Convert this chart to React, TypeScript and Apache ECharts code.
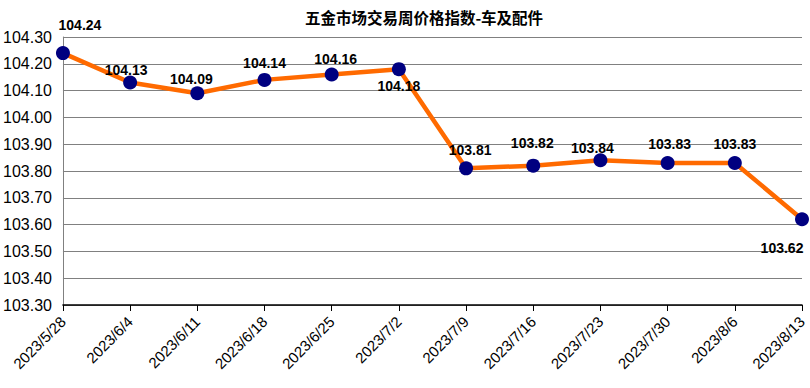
import React, { useEffect, useRef } from "react";
import * as echarts from "echarts";

const TITLE = "五金市场交易周价格指数-车及配件";
const categories = [
  "2023/5/28", "2023/6/4", "2023/6/11", "2023/6/18", "2023/6/25", "2023/7/2",
  "2023/7/9", "2023/7/16", "2023/7/23", "2023/7/30", "2023/8/6", "2023/8/13",
];
const values = [104.24, 104.13, 104.09, 104.14, 104.16, 104.18, 103.81, 103.82, 103.84, 103.83, 103.83, 103.62];
const labelOffsets: [number, number][] = [
  [17, -28], [-4, -13], [-6, -14], [0, -17], [4, -16], [0, 17],
  [4, -18], [-1, -23], [-8, -12], [2, -19], [0, -19], [-20, 29],
];
const yMin = 103.3;
const yMax = 104.3;
const yStep = 0.1;

export default function App() {
  const ref = useRef<HTMLDivElement>(null);
  useEffect(() => {
    if (!ref.current) return;
    const chart = echarts.init(ref.current, null, { renderer: "svg" });
    chart.setOption({
      animation: false,
      backgroundColor: "#ffffff",
      title: {
        text: TITLE,
        left: 419,
        top: 4,
        textAlign: "center",
        textStyle: { fontFamily: "Noto Sans CJK SC", fontSize: 15.5, fontWeight: "bold", color: "#000" },
      },
      grid: { left: 62, right: 8, top: 37, bottom: 83, containLabel: false },
      xAxis: {
        type: "category",
        data: categories,
        boundaryGap: false,
        axisLine: { show: true, lineStyle: { color: "#000", width: 1.5 } },
        axisTick: { show: true, length: 6, lineStyle: { color: "#000" } },
        axisLabel: {
          rotate: 45,
          interval: 0,
          margin: 14,
          padding: [20, 0, 0, 0],
          fontFamily: "Liberation Sans, Arial",
          fontSize: 15,
          color: "#000",
        },
        splitLine: { show: false },
      },
      yAxis: {
        type: "value",
        min: yMin,
        max: yMax,
        interval: yStep,
        axisLine: { show: true, lineStyle: { color: "#808080", width: 1 } },
        axisTick: { show: false },
        axisLabel: {
          formatter: (v: number) => v.toFixed(2),
          fontFamily: "Liberation Sans, Arial",
          fontSize: 16,
          color: "#000",
          margin: 11,
        },
        splitLine: { show: true, lineStyle: { color: "#808080", width: 1 } },
      },
      series: [
        {
          type: "line",
          data: values.map((v, i) => ({
            value: v,
            label: { offset: labelOffsets[i] },
          })),
          symbol: "circle",
          symbolSize: 14,
          lineStyle: { color: "#FF6A00", width: 4.5 },
          itemStyle: { color: "#000080", borderWidth: 0 },
          label: {
            show: true,
            position: "inside",
            align: "center",
            verticalAlign: "middle",
            formatter: (p: any) => Number(p.value).toFixed(2),
            fontFamily: "Liberation Sans, Arial",
            fontSize: 14,
            fontWeight: "bold",
            color: "#000",
          },
          z: 3,
        },
      ],
    });
    return () => chart.dispose();
  }, []);
  return <div ref={ref} style={{ width: 810, height: 388, position: "absolute", left: 0, top: 0 }} />;
}
